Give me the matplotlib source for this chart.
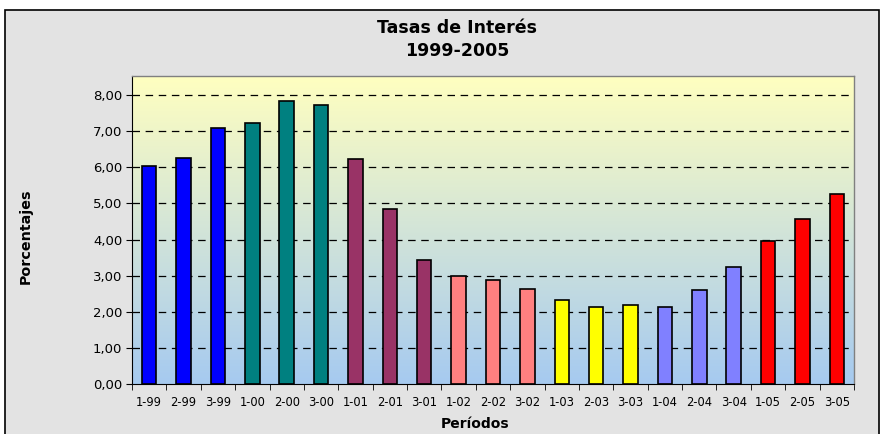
import numpy as np
import matplotlib
matplotlib.use('Agg')
import matplotlib.pyplot as plt
from matplotlib.patches import Rectangle
from matplotlib.colors import LinearSegmentedColormap

periodos = ['1-99', '2-99', '3-99', '1-00', '2-00', '3-00', '1-01', '2-01', '3-01',
            '1-02', '2-02', '3-02', '1-03', '2-03', '3-03', '1-04', '2-04', '3-04',
            '1-05', '2-05', '3-05']
tasas = [6.03, 6.27, 7.08, 7.23, 7.83, 7.74, 6.22, 4.85, 3.43,
         3.00, 2.88, 2.62, 2.32, 2.14, 2.18, 2.14, 2.59, 3.23,
         3.97, 4.56, 5.27]
colores_anio = ['#0000ff', '#008080', '#993366', '#ff8080', '#ffff00', '#8080ff', '#ff0000']
colores = [colores_anio[i // 3] for i in range(len(periodos))]

plt.rcParams['font.family'] = ['DejaVu Sans']

fig = plt.figure(figsize=(8.85, 4.34), dpi=100)
fig.patch.set_facecolor('white')
# chart area frame
fig.patches.append(Rectangle((5 / 885, -0.05), 874 / 885, 1.05 - 10 / 434,
                             transform=fig.transFigure, facecolor='#e3e3e3',
                             edgecolor='black', linewidth=1.2, zorder=-10))

ax = fig.add_axes([132 / 885, 1 - 384 / 434, (854 - 132) / 885, (384 - 76) / 434])
ax.set_facecolor('none')
ax.set_zorder(1)

ymax = 8.53
x = np.arange(len(periodos))
ax.set_xlim(-0.5, len(periodos) - 0.5)
ax.set_ylim(0, ymax)

# gradient background
cmap = LinearSegmentedColormap.from_list('fondo', ['#a6caf0', '#ffffc0'])
grad = np.linspace(0, 1, 256).reshape(-1, 1)
ax.imshow(grad, cmap=cmap, origin='lower', aspect='auto',
          extent=[-0.5, len(periodos) - 0.5, 0, ymax], zorder=0)

for v in range(1, 9):
    ax.axhline(v, color='black', linestyle=(0, (6, 4.5)), linewidth=0.9, zorder=1)

ax.bar(x, tasas, width=0.42, color=colores, edgecolor='black', linewidth=1.2, zorder=2)

ax.set_yticks(range(0, 9))
ax.set_yticklabels(['%d,00' % v for v in range(0, 9)], fontsize=9.5)
ax.set_xticks(x)
ax.set_xticklabels(periodos, fontsize=8.3)
ax.set_xticks(np.arange(-0.5, len(periodos)), minor=True)
ax.tick_params(axis='x', which='major', length=0, pad=9)
ax.tick_params(axis='x', which='minor', length=4, direction='out')
ax.tick_params(axis='y', length=4, direction='out', pad=3)

for s in ['top', 'right']:
    ax.spines[s].set_color('#808080')
    ax.spines[s].set_linewidth(1)
ax.spines['left'].set_color('black')
ax.spines['bottom'].set_color('black')

fig.text(475 / 885, 1 - 424 / 434, 'Períodos', ha='center', va='center',
         fontsize=10, fontweight='bold')
fig.text(25.5 / 885, 1 - 236 / 434, 'Porcentajes', ha='center', va='center',
         rotation=90, fontsize=10.3, fontweight='bold')

fig.text(457 / 885, 1 - 28 / 434, 'Tasas de Interés', ha='center', va='center',
         fontsize=12.5, fontweight='bold')
fig.text(457 / 885, 1 - 51 / 434, '1999-2005', ha='center', va='center',
         fontsize=12.5, fontweight='bold')

plt.savefig('out.png', dpi=100)
